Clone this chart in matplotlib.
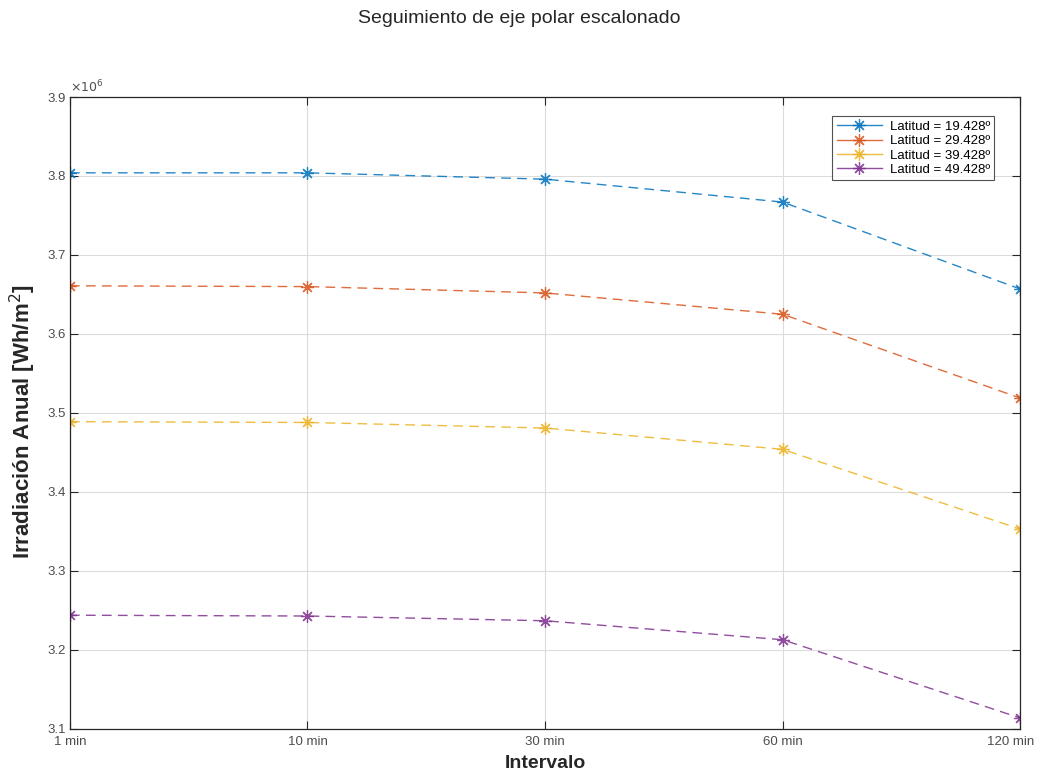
import matplotlib.pyplot as plt
from matplotlib.lines import Line2D
from matplotlib.transforms import ScaledTranslation
import numpy as np

# Datos (irradiacion anual en Wh/m^2, escala x10^6)
intervalos = ['1 min', '10 min', '30 min', '60 min', '120 min']
latitudes = ['19.428', '29.428', '39.428', '49.428']
lat_19 = [3.804, 3.804, 3.796, 3.767, 3.657]
lat_29 = [3.661, 3.660, 3.652, 3.625, 3.519]
lat_39 = [3.489, 3.488, 3.481, 3.454, 3.353]
lat_49 = [3.244, 3.243, 3.237, 3.213, 3.114]

series = [lat_19, lat_29, lat_39, lat_49]
colores = ['#0072BD', '#D95319', '#EDB120', '#7E2F8E']

plt.rcParams['font.family'] = ['Liberation Sans', 'DejaVu Sans']

fig = plt.figure(figsize=(10.38, 7.76), dpi=100)
ax = fig.add_axes([0.0674, 0.0606, 0.9153, 0.8144])

x = np.arange(len(intervalos))
handles = []
for vals, lat, c in zip(series, latitudes, colores):
    # marcador tipo asterisco de MATLAB (8 brazos)
    ax.plot(x, np.array(vals) * 1e6, linestyle=(0, (7, 4.5)), color=c, linewidth=1.0,
            alpha=0.85, marker=(8, 2, 0), markersize=9, markeredgewidth=0.9)
    handles.append(Line2D([], [], color=c, linewidth=1.0, alpha=0.85, marker=(8, 2, 0),
                          markersize=9, markeredgewidth=0.9,
                          label='Latitud = ' + lat + 'º'))

ax.set_xlim(0, len(intervalos) - 1)
ax.set_ylim(3.1e6, 3.9e6)
ax.set_xticks(x)
ax.set_xticklabels(intervalos)
yt = np.arange(3.1, 3.91, 0.1)
ax.set_yticks(yt * 1e6)
ax.set_yticklabels(['%.1f' % v for v in yt])

ax.grid(True, color='#dcdcdc', linewidth=0.8)
ax.set_axisbelow(True)
ax.tick_params(direction='in', length=6, top=True, right=True, labelsize=9.5,
               labelcolor='#4d4d4d', color='#262626', width=0.8)
ax.tick_params(axis='x', pad=5)
ax.tick_params(axis='y', pad=3)
# la ultima etiqueta se corre un poco a la izquierda para que no se corte
lbl = ax.get_xticklabels()[-1]
lbl.set_transform(lbl.get_transform() + ScaledTranslation(-9 / 100, 0, fig.dpi_scale_trans))
for s in ax.spines.values():
    s.set_color('#262626')
    s.set_linewidth(0.9)

ax.text(0.0, 1.003, r'$\times10^6$', transform=ax.transAxes, fontsize=9,
        color='#4d4d4d', va='bottom', ha='left')

ax.set_xlabel('Intervalo', fontsize=14, fontweight='bold', labelpad=5, color='#262626')
ax.set_ylabel(r'Irradiación Anual [Wh/m$^2$]', fontsize=16, fontweight='bold',
              color='#262626')
ax.yaxis.set_label_coords(-0.034, 0.487)
fig.text(0.5, 0.976, 'Seguimiento de eje polar escalonado', ha='center',
         va='center', fontsize=14, color='#262626')

leg = ax.legend(handles=handles, loc='upper right', fontsize=9.5, frameon=True,
                fancybox=False, edgecolor='#262626', handlelength=3.4, borderpad=0.35,
                labelspacing=0.15, handletextpad=0.6, bbox_to_anchor=(0.98, 0.98))
leg.get_frame().set_linewidth(0.8)

plt.savefig('out.png', dpi=100)
